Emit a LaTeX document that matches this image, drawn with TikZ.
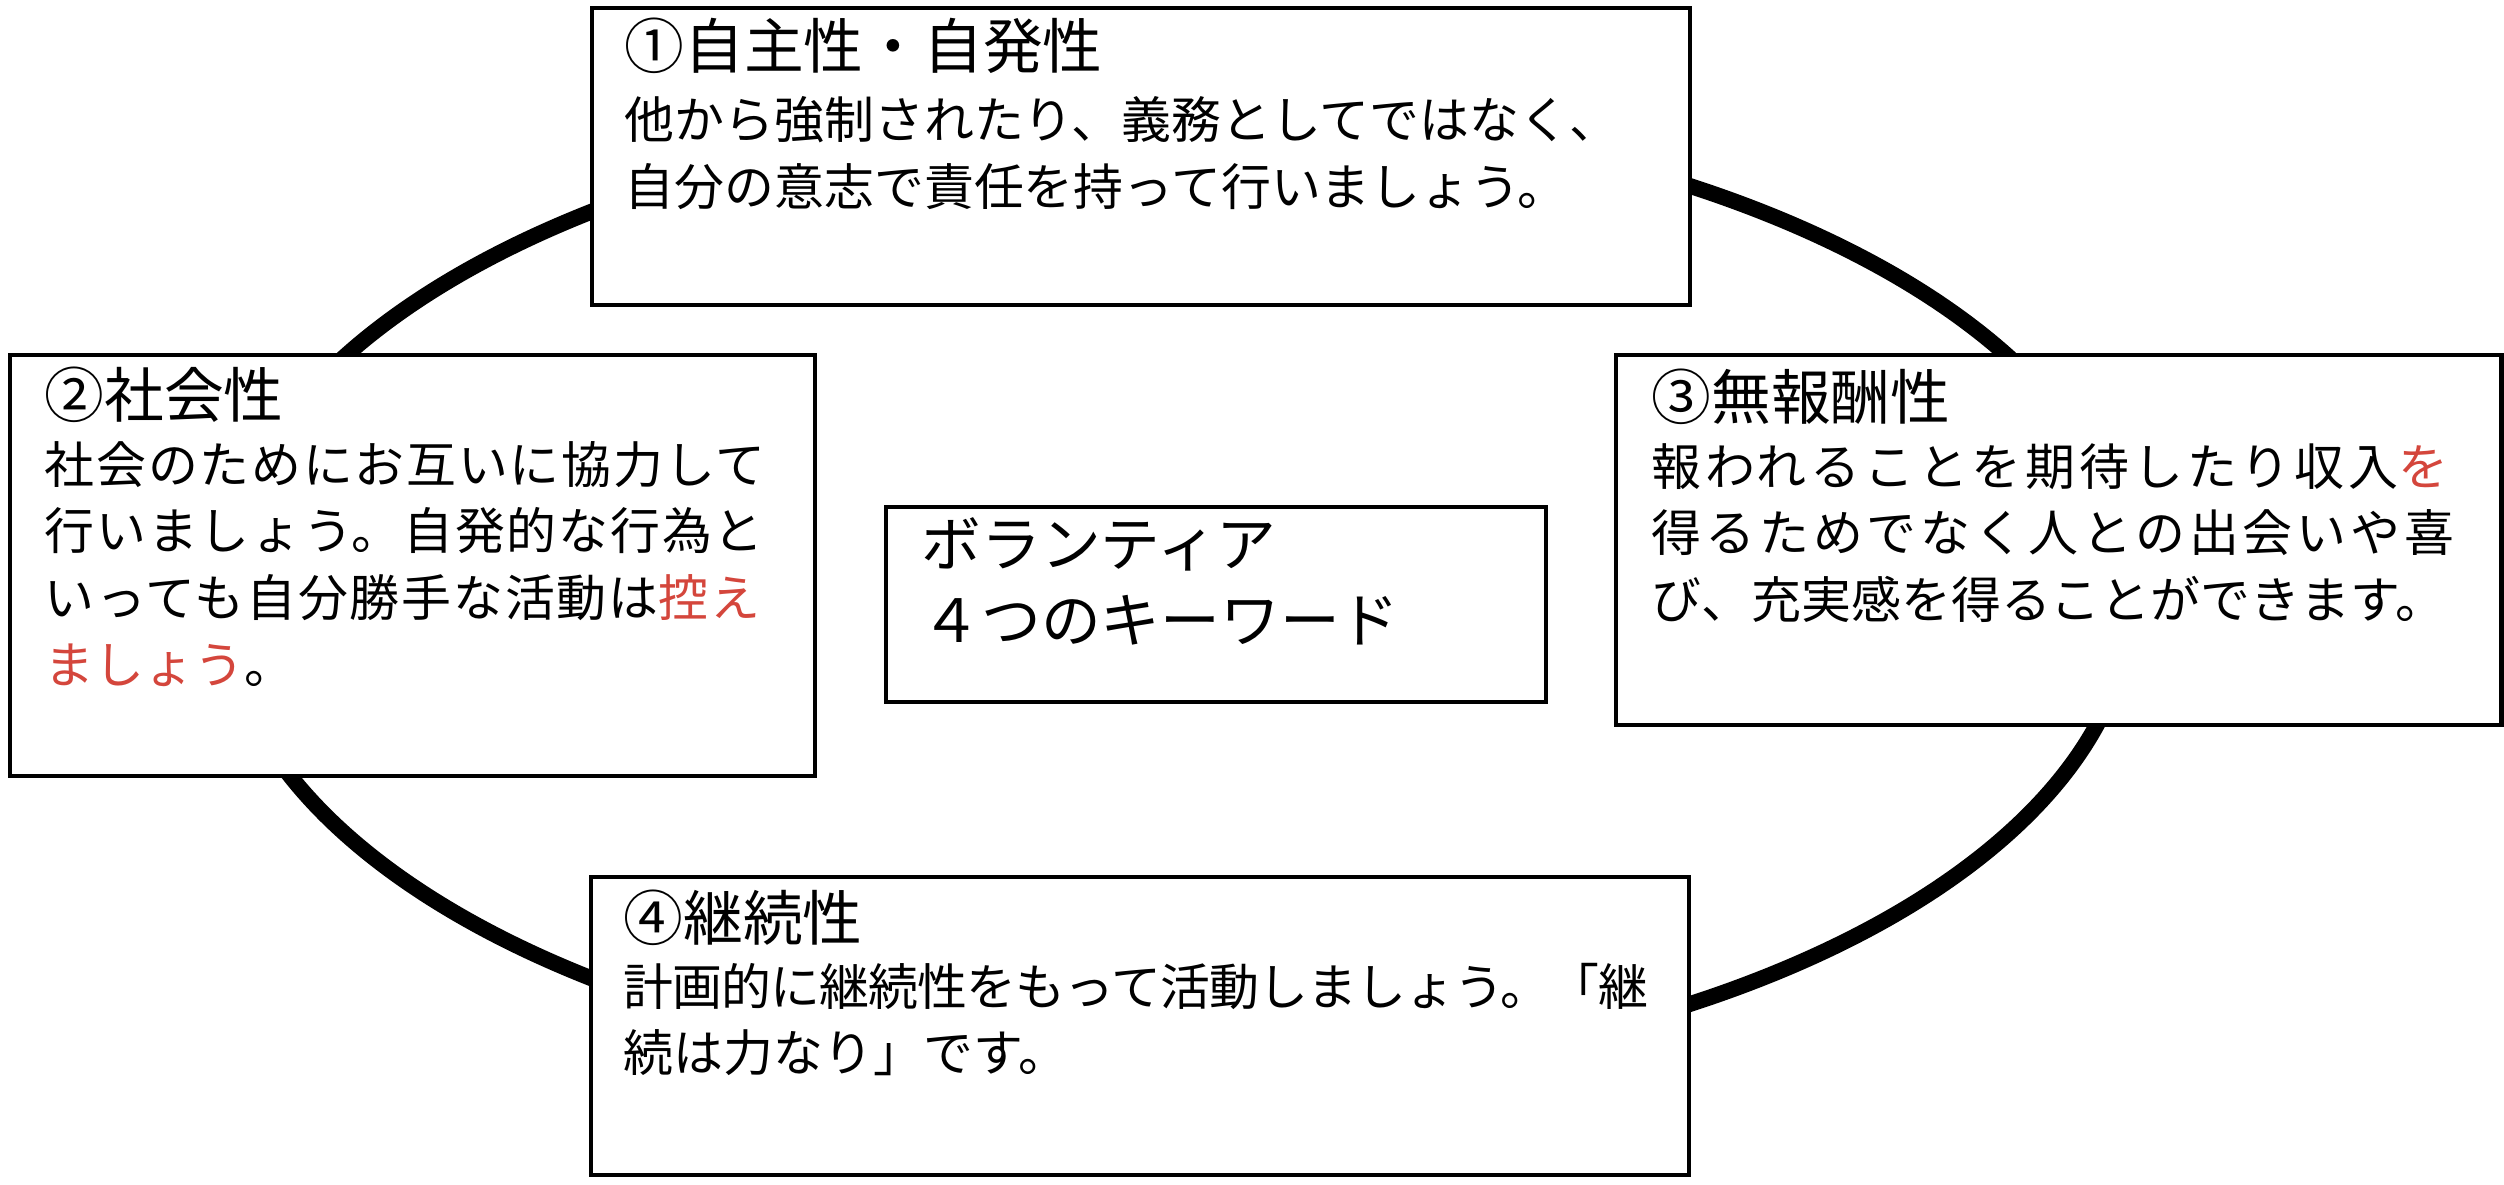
\documentclass[tikz,border=0pt]{standalone}
\usepackage{fontspec}
\setmainfont{Noto Sans CJK JP}
\usetikzlibrary{positioning}
\definecolor{keyRed}{HTML}{D4463C}

\tikzset{
  keybox/.style={draw=black, line width=1.4pt, fill=white, inner sep=0pt},
  keytitle/.style={anchor=base west, inner sep=0pt, font=\fontsize{17}{20}\selectfont},
  keybody/.style={anchor=base west, inner sep=0pt, align=left,
                  font=\fontsize{14.2}{19}\selectfont},
}
% stretch a line a little, as the justified lines of the original
\newcommand{\wideline}[2]{{\addfontfeature{LetterSpace=#1}#2}}

\begin{document}
\begin{tikzpicture}
  \useasboundingbox (0,0) rectangle (25.04,-11.84);

  % ring behind the four boxes
  \draw[line width=4.5pt] (11.765,-5.95) ellipse [x radius=9.55, y radius=4.85];

  \node[keybox, minimum width=10.98cm, minimum height=2.97cm] (jishu)   at (11.41,-1.565) {};
  \node[keybox, minimum width=8.05cm,  minimum height=4.21cm] (shakai)  at (4.125,-5.655) {};
  \node[keybox, minimum width=8.85cm,  minimum height=3.70cm] (muhoshu) at (20.585,-5.40) {};
  \node[keybox, minimum width=10.98cm, minimum height=2.98cm] (keizoku) at (11.40,-10.26) {};
  \node[keybox, minimum width=6.60cm,  minimum height=1.95cm] (center)  at (12.16,-6.045) {};

  % 1
  \node[keytitle] (jishuT) at (6.24,-0.69) {①自主性・自発性};
  \node[keybody, text width=10.4cm] (jishuB) at (6.24,-1.39)
    {他から強制されたり、義務としてではなく、\\
     自分の意志で責任を持って行いましょう。};

  % 2
  \node[keytitle] (shakaiT) at (0.44,-4.17) {②社会性};
  \node[keybody, text width=7.6cm] (shakaiB) at (0.44,-4.83)
    {\wideline{3.6}{社会のためにお互いに協力して}\\
     \wideline{3.6}{行いましょう。自発的な行為と}\\
     \wideline{3.6}{いっても自分勝手な活動は\textcolor{keyRed}{控え}}\\
     \textcolor{keyRed}{ましょう}。};

  % 3
  \node[keytitle] (muhoshuT) at (16.51,-4.19) {③無報酬性};
  \node[keybody, text width=8.5cm] (muhoshuB) at (16.51,-4.85)
    {\wideline{7.8}{報われることを期待したり収入\textcolor{keyRed}{を}}\\
     \wideline{7.8}{得るためでなく人との出会いや喜}\\
     び、充実感を得ることができます。};

  % 4
  \node[keytitle] (keizokuT) at (6.23,-9.40) {④継続性};
  \node[keybody, text width=10.6cm] (keizokuB) at (6.23,-10.05)
    {\wideline{-1.8}{計画的に継続性をもって活動しましょう。「継}\\
     続は力なり」です。};

  % middle
  \node[anchor=base west, inner sep=0pt, align=left, text width=6cm,
        font=\fontsize{17}{21.9}\selectfont] (centerT) at (9.21,-5.66)
    {ボランティア\\４つのキーワード};
\end{tikzpicture}
\end{document}
